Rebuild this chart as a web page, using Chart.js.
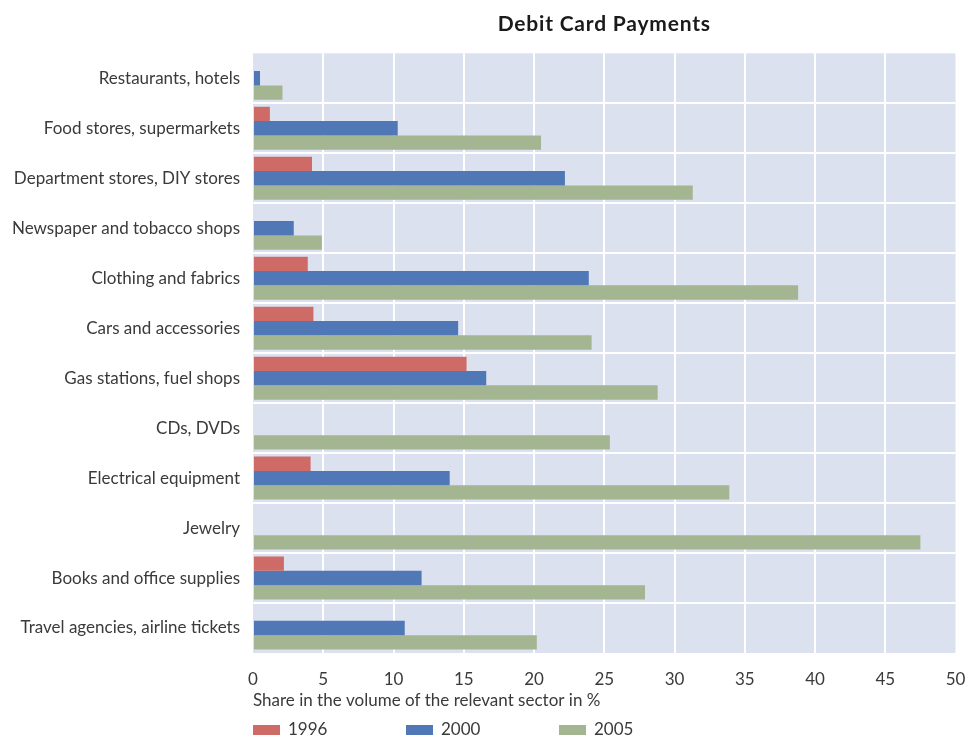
<!DOCTYPE html>
<html>
<head>
<meta charset="utf-8">
<script src="https://cdn.jsdelivr.net/npm/chart.js@4/dist/chart.umd.min.js"></script>
<style>
    html, body { margin: 0; padding: 0; background: #fff; }
    #wrap { width: 967px; height: 737px; }
</style>
</head>
<body>
<div id="wrap"><canvas id="debitChart" width="967" height="737"></canvas></div>
<script>
var sectors = [
    "Restaurants, hotels",
    "Food stores, supermarkets",
    "Department stores, DIY stores",
    "Newspaper and tobacco shops",
    "Clothing and fabrics",
    "Cars and accessories",
    "Gas stations, fuel shops",
    "CDs, DVDs",
    "Electrical equipment",
    "Jewelry",
    "Books and office supplies",
    "Travel agencies, airline tickets"
];

var share1996 = [null, 1.2, 4.2, null, 3.9, 4.3, 15.2, null, 4.1, null, 2.2, null];
var share2000 = [0.5, 10.3, 22.2, 2.9, 23.9, 14.6, 16.6, null, 14.0, null, 12.0, 10.8];
var share2005 = [2.1, 20.5, 31.3, 4.9, 38.8, 24.1, 28.8, 25.4, 33.9, 47.5, 27.9, 20.2];

var years = ["1996", "2000", "2005"];
var colors = ["#cf6b66", "#5078b6", "#a4b591"];

var fontFamily = "Lato, 'Open Sans', sans-serif";
var textColor = "#3a3a3a";

var plotBackground = {
    id: 'plotBackground',
    beforeDraw: function(chart) {
        var ctx = chart.ctx;
        var a = chart.chartArea;
        ctx.save();
        ctx.fillStyle = "#dce1ef";
        ctx.fillRect(a.left, a.top, a.right - a.left, a.bottom - a.top);
        ctx.restore();
    }
};

// title over the plot and the legend row at the bottom
var extras = {
    id: 'extras',
    afterDraw: function(chart) {
        var ctx = chart.ctx;
        var a = chart.chartArea;
        ctx.save();
        ctx.fillStyle = "#1a1a1a";
        ctx.font = "bold 21px " + fontFamily;
        ctx.letterSpacing = "0.8px";
        ctx.textAlign = "center";
        ctx.textBaseline = "middle";
        ctx.fillText("Debit Card Payments", (a.left + a.right) / 2, 24);
        ctx.letterSpacing = "0px";

        ctx.font = "17px " + fontFamily;
        ctx.textAlign = "left";
        chart.data.datasets.forEach(function(ds, i) {
            var x = a.left + i * 153;
            ctx.fillStyle = ds.backgroundColor;
            ctx.fillRect(x, 725, 27, 10);
            ctx.fillStyle = textColor;
            ctx.fillText(ds.label, x + 35, 730);
        });
        ctx.restore();
    }
};

function gridColor(c) {
    if (c.index === undefined || c.index === 0) {
        return 'rgba(0,0,0,0)';
    }
    if (c.tick && c.tick.value === 50) {
        return 'rgba(0,0,0,0)';
    }
    return '#ffffff';
}

var ctxD = document.getElementById('debitChart');
var debitChart = new Chart(ctxD, {
    type: 'bar',
    data: {
        labels: sectors,
        datasets: [
            {label: years[0], data: share1996, backgroundColor: colors[0]},
            {label: years[1], data: share2000, backgroundColor: colors[1]},
            {label: years[2], data: share2005, backgroundColor: colors[2]}
        ]
    },
    options: {
        indexAxis: 'y',
        responsive: false,
        animation: false,
        categoryPercentage: 0.86,
        barPercentage: 1.0,
        layout: {
            padding: {left: 0, right: 11.5, top: 53.3, bottom: 0}
        },
        plugins: {
            legend: {display: false},
            title: {display: false},
            tooltip: {enabled: false}
        },
        scales: {
            x: {
                min: 0,
                max: 50,
                ticks: {
                    stepSize: 5,
                    padding: 16,
                    color: textColor,
                    font: {family: fontFamily, size: 17}
                },
                grid: {color: gridColor, lineWidth: 2, drawTicks: false},
                border: {display: false},
                title: {
                    display: true,
                    text: "Share in the volume of the relevant sector in %",
                    align: 'start',
                    color: textColor,
                    font: {family: fontFamily, size: 17},
                    padding: {top: 0, bottom: 26}
                },
                afterFit: function(scale) {
                    scale.height = 84;
                    scale.paddingLeft = 0;
                    scale.paddingRight = 0;
                }
            },
            y: {
                ticks: {
                    padding: 13,
                    color: textColor,
                    font: {family: fontFamily, size: 17}
                },
                grid: {color: gridColor, lineWidth: 2, drawTicks: false},
                border: {display: false},
                afterFit: function(scale) {
                    scale.width = 253;
                }
            }
        }
    },
    plugins: [plotBackground, extras]
});
</script>
</body>
</html>
